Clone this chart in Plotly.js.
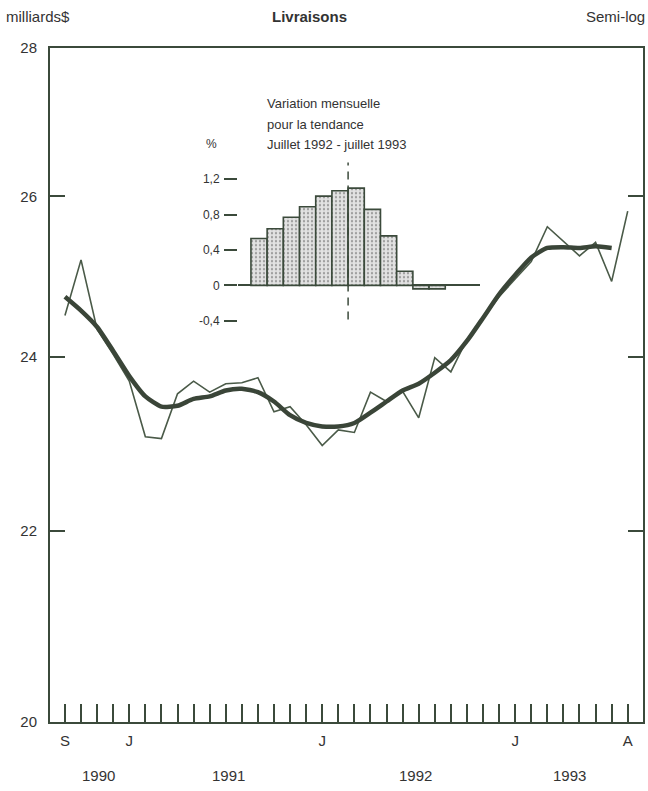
<!DOCTYPE html>
<html>
<head>
<meta charset="utf-8">
<script src="https://cdn.plot.ly/plotly-3.0.1.min.js"></script>
<style>html,body{margin:0;padding:0;background:#fff;}#chart{width:648px;height:791px;}</style>
</head>
<body>
<div id="chart"></div>
<script>
// ---- Data ----
const months = ['1990-09','1990-10','1990-11','1990-12','1991-01','1991-02','1991-03','1991-04','1991-05','1991-06','1991-07','1991-08',
  '1991-09','1991-10','1991-11','1991-12','1992-01','1992-02','1992-03','1992-04','1992-05','1992-06','1992-07','1992-08',
  '1992-09','1992-10','1992-11','1992-12','1993-01','1993-02','1993-03','1993-04','1993-05','1993-06','1993-07','1993-08'];
// Livraisons, milliards $ (monthly)
const deliveries = [24.50, 25.19, 24.33, 24.03, 23.71, 23.06, 23.04, 23.56, 23.71, 23.58, 23.68, 23.69,
  23.75, 23.35, 23.41, 23.20, 22.96, 23.14, 23.11, 23.58, 23.47, 23.59, 23.28, 23.99,
  23.82, 24.21, 24.47, 24.73, 24.95, 25.17, 25.61, 25.42, 25.24, 25.41, 24.92, 25.81];
// Tendance (Sep 1990 - Jul 1993)
const trend = [24.73, 24.56, 24.36, 24.07, 23.77, 23.53, 23.41, 23.42, 23.50, 23.53, 23.60, 23.62,
  23.58, 23.47, 23.31, 23.22, 23.18, 23.18, 23.22, 23.34, 23.47, 23.60, 23.68, 23.81,
  23.96, 24.19, 24.47, 24.76, 25.00, 25.22, 25.34, 25.35, 25.34, 25.36, 25.34];
// Inset: variation mensuelle de la tendance, %
const insetMonths = ['1992-08','1992-09','1992-10','1992-11','1992-12','1993-01','1993-02','1993-03','1993-04','1993-05','1993-06','1993-07'];
const insetChange = [0.53, 0.64, 0.77, 0.89, 1.01, 1.07, 1.10, 0.86, 0.56, 0.16, -0.04, -0.04];

const xTickVals = [0, 4, 16, 28, 35];
const xTickText = ['S', 'J', 'J', 'J', 'A'];
const janTicks = [4, 16, 28];
const yTickVals = [20, 22, 24, 26, 28];
const insetTickVals = [-0.4, 0, 0.4, 0.8, 1.2];
const insetTickText = ['-0,4', '0', '0,4', '0,8', '1,2'];
const years = ['1990', '1991', '1992', '1993'];
const yearPos = [2.1, 10.2, 21.8, 31.4];

// ---- Styles ----
const INK = '#3b4a3b';
const TXT = '#333333';
const FONT = 'Liberation Sans, Arial, sans-serif';

const idx = months.map((m, i) => i);
const trendIdx = trend.map((v, i) => i);
const insetIdx = insetMonths.map((m, i) => i + 1);

const traces = [
  { x: idx, y: deliveries, type: 'scatter', mode: 'lines', line: { color: '#4a5a48', width: 1.6 }, hoverinfo: 'skip', xaxis: 'x', yaxis: 'y' },
  { x: trendIdx, y: trend, type: 'scatter', mode: 'lines', line: { color: '#3a4538', width: 4.5, shape: 'spline', smoothing: 0.6 }, hoverinfo: 'skip', xaxis: 'x', yaxis: 'y' },
  { x: insetIdx, y: insetChange, type: 'bar', width: 1, xaxis: 'x2', yaxis: 'y2',
    marker: { color: '#dcdcdc', line: { color: INK, width: 1.6 },
      pattern: { shape: '.', fgcolor: '#9a9a9a', bgcolor: '#e2e2e2', size: 4, solidity: 0.25 } },
    hoverinfo: 'skip' }
];

const annotations = [
  { text: 'milliards$', xref: 'paper', yref: 'paper', x: -0.077, y: 1.046, xanchor: 'left', yanchor: 'middle', showarrow: false, font: { family: FONT, size: 15, color: TXT } },
  { text: '<b>Livraisons</b>', xref: 'paper', yref: 'paper', x: 0.438, y: 1.046, xanchor: 'center', yanchor: 'middle', showarrow: false, font: { family: FONT, size: 15, color: TXT } },
  { text: 'Semi-log', xref: 'paper', yref: 'paper', x: 1.006, y: 1.046, xanchor: 'right', yanchor: 'middle', showarrow: false, font: { family: FONT, size: 15, color: TXT } },
  { text: 'Variation mensuelle', xref: 'paper', yref: 'paper', x: 0.362, y: 0.917, xanchor: 'left', yanchor: 'middle', showarrow: false, font: { family: FONT, size: 13, color: TXT } },
  { text: 'pour la tendance', xref: 'paper', yref: 'paper', x: 0.362, y: 0.887, xanchor: 'left', yanchor: 'middle', showarrow: false, font: { family: FONT, size: 13, color: TXT } },
  { text: 'Juillet 1992 - juillet 1993', xref: 'paper', yref: 'paper', x: 0.362, y: 0.857, xanchor: 'left', yanchor: 'middle', showarrow: false, font: { family: FONT, size: 13, color: TXT } },
  { text: '%', xref: 'paper', yref: 'paper', x: 0.273, y: 0.857, xanchor: 'center', yanchor: 'middle', showarrow: false, font: { family: FONT, size: 12, color: TXT } }
];
years.forEach((yr, i) => annotations.push({
  text: yr, xref: 'x', yref: 'paper', x: yearPos[i], y: -0.080, xanchor: 'center', yanchor: 'middle',
  showarrow: false, font: { family: FONT, size: 15, color: TXT }
}));

const layout = {
  width: 648, height: 791,
  margin: { l: 50, r: 5, t: 48, b: 69 },
  paper_bgcolor: '#ffffff', plot_bgcolor: 'rgba(0,0,0,0)',
  showlegend: false,
  font: { family: FONT, color: TXT },
  xaxis: {
    domain: [0, 1], range: [-0.93, 35.95], showgrid: false, zeroline: false,
    showline: true, mirror: true, linecolor: INK, linewidth: 2,
    tickmode: 'array', tickvals: xTickVals, ticktext: xTickText,
    ticks: 'inside', ticklen: 18, tickwidth: 2, tickcolor: INK,
    tickfont: { family: FONT, size: 15, color: TXT }, ticklabelstandoff: 4,
    minor: { tickmode: 'linear', tick0: 0, dtick: 1, ticks: 'inside', ticklen: 18, tickwidth: 2, tickcolor: INK }
  },
  xaxis3: {
    overlaying: 'x', anchor: 'y', matches: 'x', range: [-0.93, 35.95], showgrid: false, zeroline: false,
    showline: false, tickmode: 'array', tickvals: janTicks, showticklabels: false,
    ticks: 'inside', ticklen: 32, tickwidth: 2, tickcolor: INK
  },
  yaxis: {
    type: 'log', range: [Math.log10(20), Math.log10(28)], showgrid: false, zeroline: false,
    showline: true, mirror: 'ticks', linecolor: INK, linewidth: 2,
    tickmode: 'array', tickvals: yTickVals, ticktext: yTickVals.map(String),
    ticks: 'inside', ticklen: 15, tickwidth: 2, tickcolor: INK,
    tickfont: { family: FONT, size: 15, color: TXT }, ticklabelstandoff: 8
  },
  xaxis2: {
    domain: [0.317, 0.725], range: [-0.30, 14.64], anchor: 'y2', visible: false, fixedrange: true
  },
  yaxis2: {
    domain: [0.5825, 0.835], range: [-0.498, 1.427], anchor: 'x2', showgrid: false,
    showline: false, zeroline: true, zerolinecolor: INK, zerolinewidth: 2,
    tickmode: 'array', tickvals: insetTickVals, ticktext: insetTickText,
    ticks: 'outside', ticklen: 13, tickwidth: 2, tickcolor: INK,
    tickfont: { family: FONT, size: 12, color: TXT }, ticklabelstandoff: 2
  },
  shapes: [
    { type: 'line', xref: 'x2', yref: 'y2', x0: 6.5, x1: 6.5, y0: -0.385, y1: 1.39,
      line: { color: INK, width: 1.5, dash: '8px,6px' }, layer: 'above' }
  ],
  annotations: annotations
};

Plotly.newPlot('chart', traces, layout, { displayModeBar: false, staticPlot: true });
</script>
</body>
</html>
